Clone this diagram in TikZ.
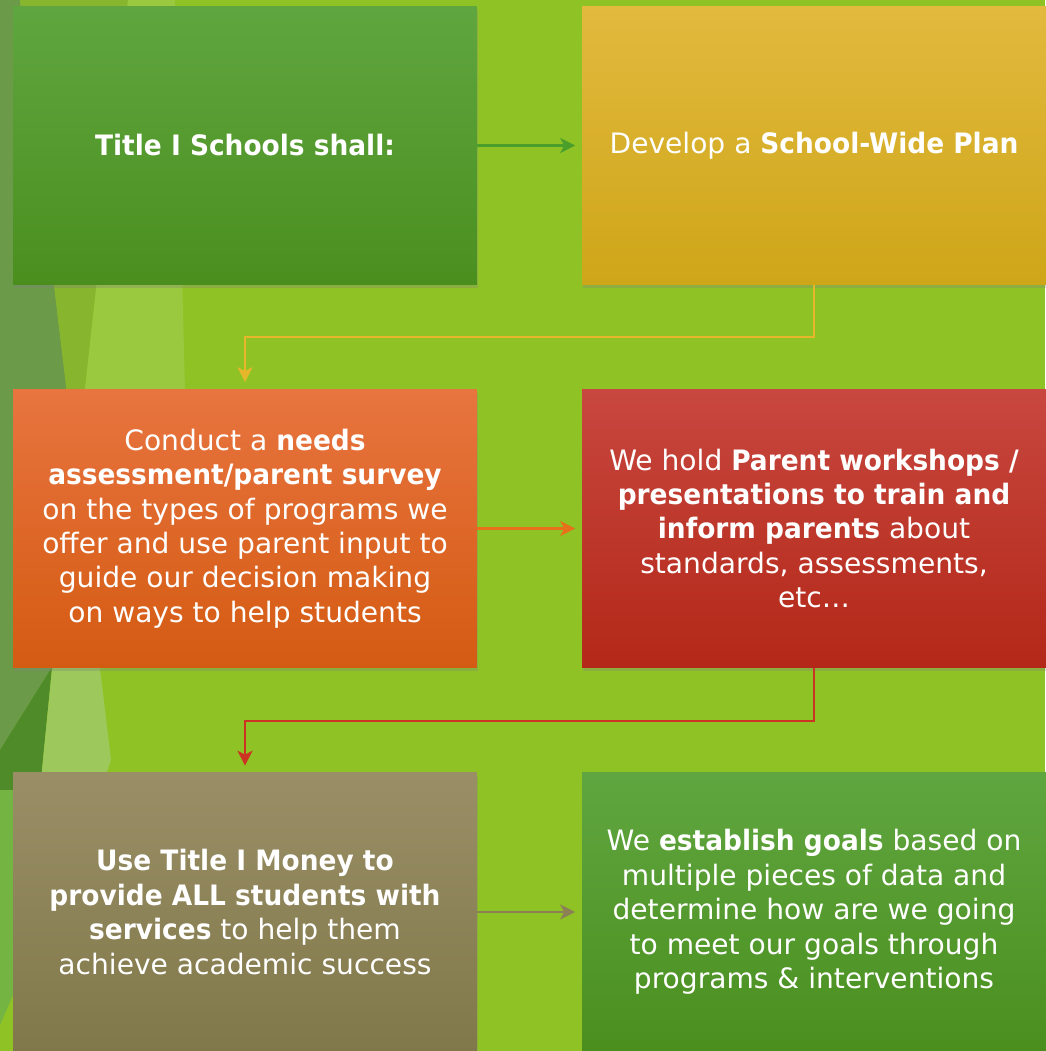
\documentclass[tikz,border=0pt]{standalone}
\usepackage{fontspec}
\setmainfont{DejaVu Sans}[BoldFeatures={FakeStretch=0.94}]
\usepackage{tikz}
\usetikzlibrary{arrows.meta,shadows}

\definecolor{bggreen}{HTML}{8FC225}
\definecolor{facetdark}{HTML}{6B9A48}
\definecolor{facetmid}{HTML}{88B52E}
\definecolor{facetlight}{HTML}{9AC83E}
\definecolor{facetdeep}{HTML}{4F8B28}
\definecolor{facetpale}{HTML}{9DC95C}
\definecolor{facetstrip}{HTML}{74B442}
\definecolor{greentop}{HTML}{60A640}
\definecolor{greenbot}{HTML}{4A8F1E}
\definecolor{goldtop}{HTML}{E3B93E}
\definecolor{goldbot}{HTML}{CEA618}
\definecolor{orangetop}{HTML}{E8743F}
\definecolor{orangebot}{HTML}{D45B12}
\definecolor{redtop}{HTML}{C8473F}
\definecolor{redbot}{HTML}{B32818}
\definecolor{browntop}{HTML}{9A8E66}
\definecolor{brownbot}{HTML}{80784A}
\definecolor{greenarrow}{HTML}{4A9E2A}
\definecolor{goldarrow}{HTML}{E6B72A}
\definecolor{orangearrow}{HTML}{E8701A}
\definecolor{redarrow}{HTML}{CC3322}
\definecolor{brownarrow}{HTML}{8C8055}

\tikzset{
  stepbox/.style={minimum width=9.28cm, minimum height=5.58cm, inner sep=0pt,
    text=white, align=center, font=\fontsize{16}{19.6}\selectfont,
    drop shadow={shadow xshift=0.02cm, shadow yshift=-0.07cm, opacity=0.3}},
  flow/.style={line width=1.2pt, -{Stealth[length=0.3cm, width=0.3cm, inset=0.08cm]},
    shorten >=0.13cm},
}

\begin{document}
\begin{tikzpicture}[x=0.02cm, y=-0.02cm]
\useasboundingbox (0,0) rectangle (1045,1051);
\fill[bggreen] (0,0) rectangle (1045,1051);
% facets on the left
\fill[facetdark] (0,0) -- (20,0) -- (80,500) -- (52,667) -- (0,750) -- cycle;
\fill[facetmid] (20,0) -- (128,0) -- (76,470) -- cycle;
\fill[facetlight] (128,0) -- (175,0) -- (185,390) -- (76,470) -- cycle;
\fill[facetdeep] (0,750) -- (52,667) -- (40,790) -- (0,790) -- cycle;
\fill[facetpale] (53,660) -- (99,660) -- (111,760) -- (104,780) -- (40,790) -- cycle;
\fill[facetstrip] (0,790) -- (40,790) -- (13,995) -- (0,1025) -- cycle;
%
\node[stepbox, top color=greentop, bottom color=greenbot] (title) at (245,145.5)
  {\bfseries Title I Schools shall:};
\node[stepbox, top color=goldtop, bottom color=goldbot] (plan) at (814,145.5)
  {Develop a \textbf{School-Wide Plan}};
%
\node[stepbox, top color=orangetop, bottom color=orangebot] (survey) at (245,528.5)
  {Conduct a \textbf{needs}\\ \textbf{assessment/parent survey}\\ on the types of programs we\\
   offer and use parent input to\\ guide our decision making\\ on ways to help students};
\node[stepbox, top color=redtop, bottom color=redbot] (workshops) at (814,528.5)
  {We hold \textbf{Parent workshops /}\\ \textbf{presentations to train and}\\
   \textbf{inform parents} about\\ standards, assessments,\\ etc\ldots};
%
\node[stepbox, top color=browntop, bottom color=brownbot] (money) at (245,912)
  {\textbf{Use Title I Money to}\\ \textbf{provide ALL students with}\\
   \textbf{services} to help them\\ achieve academic success};
\node[stepbox, top color=greentop, bottom color=greenbot] (goals) at (814,912)
  {We \textbf{establish goals} based on\\ multiple pieces of data and\\
   determine how are we going\\ to meet our goals through\\ programs \& interventions};
%
\draw[flow, greenarrow] (title.east) -- (plan.west);
\draw[flow, goldarrow] (plan.south) -- ++(0,52) -| (survey.north);
\draw[flow, orangearrow] (survey.east) -- (workshops.west);
\draw[flow, redarrow] (workshops.south) -- ++(0,53) -| (money.north);
\draw[flow, brownarrow] (money.east) -- (goals.west);
\end{tikzpicture}
\end{document}
